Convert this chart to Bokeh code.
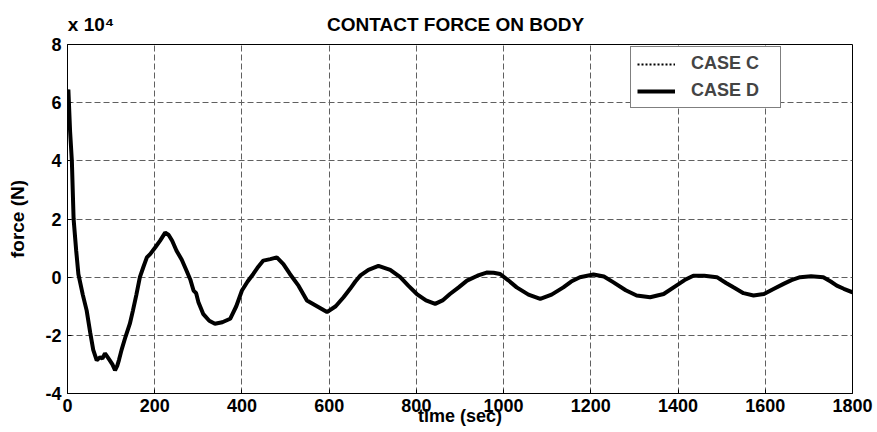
from bokeh.embed import file_html
from bokeh.models import (CustomJSTickFormatter, FixedTicker, Legend,
                          LegendItem, LinearAxis, Range1d)
from bokeh.plotting import figure
from bokeh.resources import INLINE

# Contact force history (N) sampled along time (s)
time_s = [0, 2, 6, 10, 14, 20, 25, 35, 44, 52, 59, 67, 75, 80, 86, 92, 97, 103,
          109, 114, 118, 124, 133, 143, 150, 158, 166, 174, 182, 190, 201, 212,
          224, 232, 240, 250, 262, 273, 282, 289, 295, 300, 311, 325, 338, 355,
          373, 387, 400, 413, 426, 437, 449, 465, 480, 495, 510, 530, 549, 572,
          595, 615, 633, 648, 660, 671, 690, 713, 740, 763, 782, 801, 822, 843,
          860, 877, 897, 916, 940, 961, 977, 992, 1010, 1030, 1057, 1084, 1110,
          1137, 1155, 1175, 1206, 1230, 1252, 1280, 1305, 1336, 1367, 1396, 1415,
          1435, 1460, 1489, 1510, 1527, 1550, 1573, 1597, 1620, 1642, 1660, 1680,
          1705, 1733, 1750, 1764, 1780, 1800]

force_d = [62000, 64500, 50000, 40000, 20000, 9000, 1000, -6000, -11500, -19000,
           -25000, -28600, -27500, -28000, -26200, -27500, -28600, -30000, -32000,
           -30500, -28500, -25000, -20500, -16000, -11500, -6000, 0, 3500, 6800,
           8000, 10200, 12500, 15300, 14500, 12500, 9100, 6000, 2200, -1000, -4600,
           -5500, -8500, -12600, -15000, -16000, -15500, -14300, -10000, -4600,
           -1500, 1100, 3500, 5700, 6200, 6800, 4500, 1100, -3000, -8000, -10000,
           -12000, -10000, -6900, -4000, -1500, 500, 2500, 3900, 2500, 0, -3000,
           -5800, -8000, -9200, -8000, -5800, -3500, -1200, 500, 1600, 1500, 1100,
           -1000, -3500, -6000, -7500, -6000, -3500, -1500, 0, 900, 200, -1800,
           -4500, -6300, -6900, -5800, -2900, -1000, 500, 500, 0, -2000, -3500,
           -5500, -6300, -5800, -4000, -2300, -1000, 0, 300, 0, -1500, -2900,
           -4000, -5200]

# Case C lies on top of case D over the whole run
force_c = list(force_d)

x_ticks = [0, 200, 400, 600, 800, 1000, 1200, 1400, 1600, 1800]
y_ticks = [-40000, -20000, 0, 20000, 40000, 60000, 80000]

# Header line above the axes: exponent note at the left, title in the middle
header_pos = [54, 890]
header_text = ["x 10\u2074", "CONTACT FORCE ON BODY"]

FONT = "Liberation Sans"

p = figure(width=877, height=432, output_backend="svg", toolbar_location=None,
           x_range=Range1d(0, 1800), y_range=Range1d(-40000, 80000),
           min_border_left=67, min_border_right=25, min_border_top=44,
           min_border_bottom=39)
p.background_fill_color = "white"
p.border_fill_color = "white"
p.outline_line_color = "black"
p.outline_line_width = 1

for ax, ticks in ((p.xaxis, x_ticks), (p.yaxis, y_ticks)):
    ax.ticker = FixedTicker(ticks=ticks)
    ax.axis_line_color = "black"
    ax.major_tick_line_color = "black"
    ax.major_tick_in = 4
    ax.major_tick_out = 0
    ax.minor_tick_line_color = None
    ax.major_label_text_font = FONT
    ax.major_label_text_font_style = "bold"
    ax.major_label_text_font_size = "18px"
    ax.major_label_text_color = "black"
    ax.axis_label_text_font = FONT
    ax.axis_label_text_font_style = "bold"
    ax.axis_label_text_color = "black"

p.xaxis.major_label_standoff = 5
p.yaxis.major_label_standoff = 6
p.yaxis.formatter = CustomJSTickFormatter(code="return (tick / 1e4).toFixed(0);")

p.xaxis.axis_label = "time (sec)"
p.xaxis.axis_label_text_font_size = "18px"
p.xaxis.axis_label_standoff = -9

p.yaxis.axis_label = "force (N)"
p.yaxis.axis_label_text_font_size = "19px"
p.yaxis.axis_label_standoff = 14

# The blank axis label is only a spacer that keeps the header a few pixels
# below the top edge of the canvas.
header = LinearAxis(ticker=FixedTicker(ticks=header_pos),
                    formatter=CustomJSTickFormatter(
                        args=dict(pos=header_pos, txt=header_text),
                        code="const i = pos.indexOf(tick); return i < 0 ? '' : txt[i];"),
                    axis_line_color=None, major_tick_line_color=None,
                    minor_tick_line_color=None, major_label_standoff=4,
                    major_label_text_font=FONT,
                    major_label_text_font_style="bold",
                    major_label_text_font_size="19px",
                    major_label_text_color="black",
                    axis_label="\u00a0", axis_label_text_font_size="4px",
                    axis_label_standoff=0)
p.add_layout(header, "above")

for g, ticks in ((p.xgrid, x_ticks), (p.ygrid, y_ticks)):
    g.ticker = FixedTicker(ticks=ticks)
    g.grid_line_color = "#606060"
    g.grid_line_dash = "6 3"
    g.grid_line_width = 1

r_c = p.line(time_s, force_c, line_color="black", line_width=2, line_dash="2 2")
r_d = p.line(time_s, force_d, line_color="black", line_width=4)

legend = Legend(items=[LegendItem(label="CASE C", renderers=[r_c]),
                       LegendItem(label="CASE D", renderers=[r_d])],
                location=(563, 285), margin=0, padding=6, spacing=6,
                glyph_width=38, glyph_height=20, label_height=20,
                label_width=83, label_standoff=16,
                label_text_font=FONT, label_text_font_style="bold",
                label_text_font_size="18px",
                border_line_color="black", border_line_width=1,
                background_fill_color="white", background_fill_alpha=1)
p.add_layout(legend)

open("out.html", "w").write(file_html(p, INLINE))
